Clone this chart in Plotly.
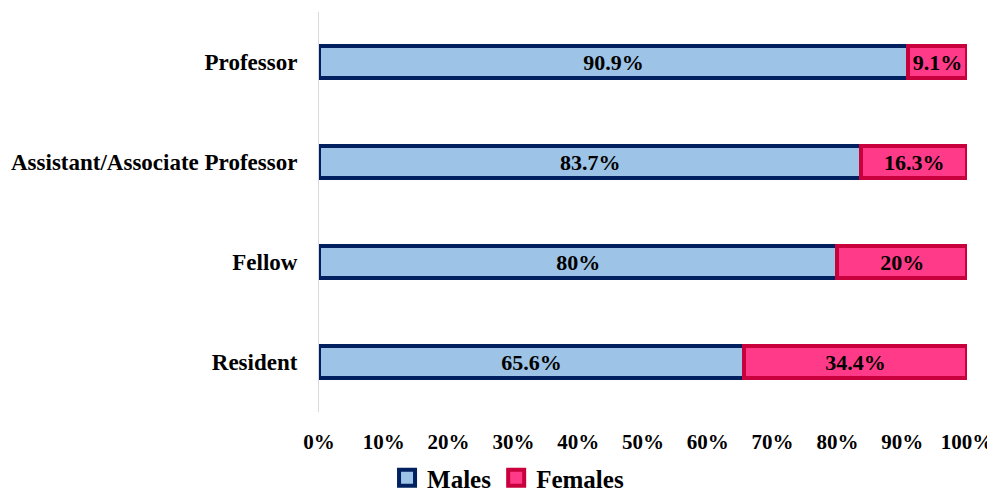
import plotly.graph_objects as go

categories = ["Resident", "Fellow", "Assistant/Associate Professor", "Professor"]
males = [65.6, 80, 83.7, 90.9]
females = [34.4, 20, 16.3, 9.1]
male_labels = ["65.6%", "80%", "83.7%", "90.9%"]
female_labels = ["34.4%", "20%", "16.3%", "9.1%"]
tick_vals = [0, 10, 20, 30, 40, 50, 60, 70, 80, 90, 100]
tick_text = [f"{v}%" for v in tick_vals]

FONT = "Liberation Serif"
M_FILL, M_LINE = "#9DC3E6", "#002060"
F_FILL, F_LINE = "#FF3A88", "#C8003C"

fig = go.Figure()
fig.add_trace(go.Bar(
    y=categories, x=males, orientation="h", name="Males", showlegend=False,
    marker=dict(color=M_FILL, line=dict(color=M_LINE, width=4)),
    text=male_labels, textposition="inside", insidetextanchor="middle",
    textangle=0, constraintext="none",
    textfont=dict(family=FONT, size=22, color="black", weight="bold"),
    width=0.32,
))
fig.add_trace(go.Bar(
    y=categories, x=females, orientation="h", name="Females", showlegend=False,
    marker=dict(color=F_FILL, line=dict(color=F_LINE, width=4)),
    text=female_labels, textposition="inside", insidetextanchor="middle",
    textangle=0, constraintext="none",
    textfont=dict(family=FONT, size=22, color="black", weight="bold"),
    width=0.32,
))
# legend entries
fig.add_trace(go.Scatter(
    x=[None], y=[None], mode="markers", name="Males",
    marker=dict(symbol="square", size=16, color=M_FILL, line=dict(color=M_LINE, width=4)),
))
fig.add_trace(go.Scatter(
    x=[None], y=[None], mode="markers", name="Females",
    marker=dict(symbol="square", size=16, color=F_FILL, line=dict(color=F_LINE, width=4)),
))

fig.update_layout(
    barmode="stack",
    width=987, height=488,
    margin=dict(l=311, r=28, t=4, b=84, autoexpand=False),
    paper_bgcolor="white", plot_bgcolor="white",
    font=dict(family=FONT, size=20, color="black", weight="bold"),
    legend=dict(
        orientation="h", x=0.105, xanchor="left", y=-0.165, yanchor="middle",
        font=dict(family=FONT, size=25, color="black", weight="bold"),
        itemsizing="trace", traceorder="normal", itemwidth=30,
        bgcolor="rgba(0,0,0,0)",
    ),
    xaxis=dict(
        range=[0, 100], tickvals=tick_vals, ticktext=tick_text,
        showgrid=False, zeroline=False, showline=False,
        ticklabelstandoff=15,
        tickfont=dict(family=FONT, size=21, color="black", weight="bold"),
    ),
    yaxis=dict(
        range=[-0.5, 3.5], showgrid=False, zeroline=False,
        showline=True, linecolor="#D9D9D9", linewidth=1,
        ticks="", ticklabelstandoff=16,
        tickfont=dict(family=FONT, size=23, color="black", weight="bold"),
    ),
)

fig.write_html("out.html")
